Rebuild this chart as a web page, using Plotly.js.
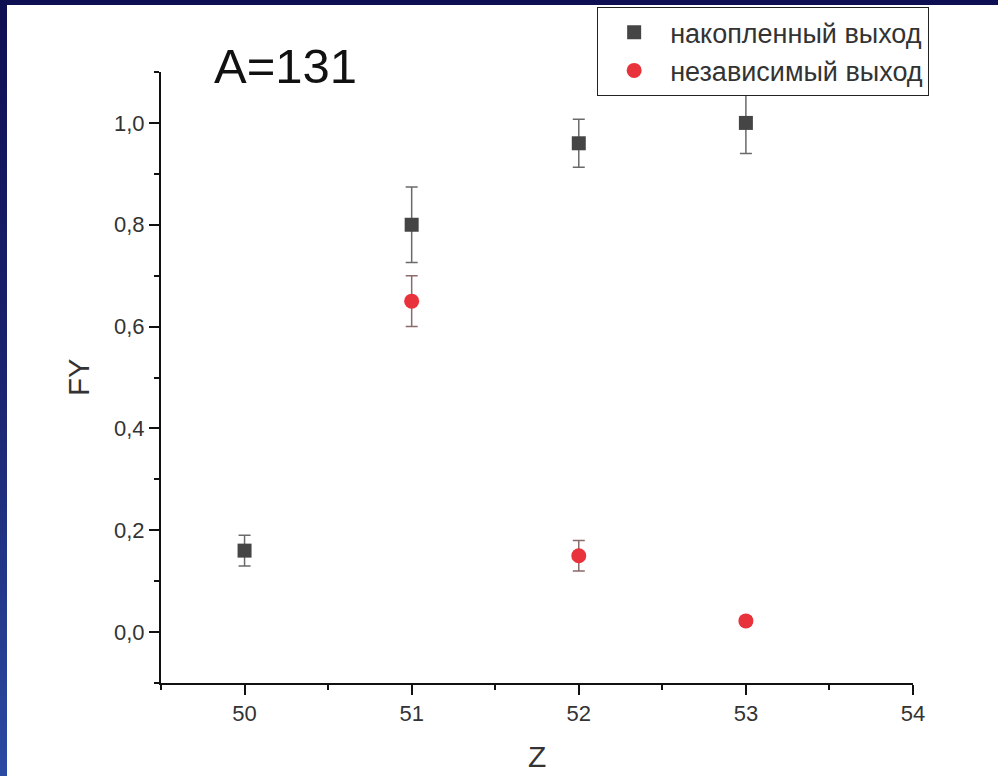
<!DOCTYPE html>
<html>
<head>
<meta charset="utf-8">
<script src="https://cdn.plot.ly/plotly-3.0.1.min.js"></script>
<style>
html,body{margin:0;padding:0;width:998px;height:776px;overflow:hidden;
background:linear-gradient(to bottom,#0e0e52 0%,#1a2470 50%,#2b4aa2 100%);}
#chart{position:absolute;left:7px;top:5px;width:991px;height:771px;background:#fff;}
</style>
</head>
<body>
<div id="chart"></div>
<script>
// Data
const zValues = [50, 51, 52, 53];
const cumulativeYield = [0.16, 0.80, 0.96, 1.00];
const cumulativeErr = [0.03, 0.074, 0.047, 0.06];
const zIndependent = [51, 52, 53];
const independentYield = [0.65, 0.15, 0.022];
const independentErr = [0.05, 0.03, 0.008];
const seriesNames = ['накопленный выход', 'независимый выход'];
const xTicks = [50, 51, 52, 53, 54];
const yTicks = [0.0, 0.2, 0.4, 0.6, 0.8, 1.0];
const panelLabel = 'A=131';
const xTitle = 'Z';
const yTitle = 'FY';

const FONT = 'Liberation Sans, Arial, sans-serif';

const traces = [
  {
    x: zValues, y: cumulativeYield, name: seriesNames[0],
    type: 'scatter', mode: 'markers',
    marker: {symbol: 'square', size: 14, color: '#454545'},
    error_y: {type: 'data', array: cumulativeErr, visible: true, color: '#6a6a6a', thickness: 1.5, width: 6}
  },
  {
    x: zIndependent, y: independentYield, name: seriesNames[1],
    type: 'scatter', mode: 'markers',
    marker: {symbol: 'circle', size: 15, color: '#e8323c'},
    error_y: {type: 'data', array: independentErr, visible: true, color: '#8a6a6a', thickness: 1.5, width: 6}
  }
];

const axisFont = {family: FONT, size: 22, color: '#333'};

const layout = {
  width: 991, height: 771,
  margin: {l: 154, r: 85, t: 67, b: 93, autoexpand: false},
  paper_bgcolor: '#ffffff', plot_bgcolor: '#ffffff',
  separators: ', ',
  font: {family: FONT, color: '#222'},
  showlegend: true,
  legend: {
    x: 0.58, y: 1.106, xanchor: 'left', yanchor: 'top',
    bordercolor: '#222', borderwidth: 1, bgcolor: '#fff',
    font: {family: FONT, size: 27, color: '#333'},
    itemwidth: 62
  },
  xaxis: {
    range: [49.5, 54], tickvals: xTicks, ticktext: xTicks.map(String),
    showgrid: false, zeroline: false, showline: true, linecolor: '#111', linewidth: 2,
    ticks: 'outside', ticklen: 10, tickwidth: 2, tickcolor: '#111',
    minor: {dtick: 0.5, ticks: 'outside', ticklen: 5, tickwidth: 2, tickcolor: '#111'},
    tickfont: axisFont, automargin: false
  },
  yaxis: {
    range: [-0.1, 1.1], tickvals: yTicks, ticktext: yTicks.map(v => v.toFixed(1).replace('.', ',')),
    showgrid: false, zeroline: false, showline: true, linecolor: '#111', linewidth: 2,
    ticks: 'outside', ticklen: 10, tickwidth: 2, tickcolor: '#111',
    minor: {dtick: 0.1, ticks: 'outside', ticklen: 5, tickwidth: 2, tickcolor: '#111'},
    tickfont: axisFont, automargin: false
  },
  annotations: [
    {
      text: panelLabel, xref: 'paper', yref: 'paper', x: 0.068, y: 1.01,
      xanchor: 'left', yanchor: 'middle', showarrow: false,
      font: {family: FONT, size: 49, color: '#111'}
    },
    {
      text: xTitle, xref: 'paper', yref: 'paper', x: 0.5, y: -0.12,
      xanchor: 'center', yanchor: 'middle', showarrow: false,
      font: {family: FONT, size: 30, color: '#333'}
    },
    {
      text: yTitle, xref: 'paper', yref: 'paper', x: -0.11, y: 0.5,
      xanchor: 'center', yanchor: 'middle', showarrow: false, textangle: -90,
      font: {family: FONT, size: 29, color: '#333'}
    }
  ]
};

Plotly.newPlot('chart', traces, layout, {displayModeBar: false, staticPlot: true});
</script>
</body>
</html>
